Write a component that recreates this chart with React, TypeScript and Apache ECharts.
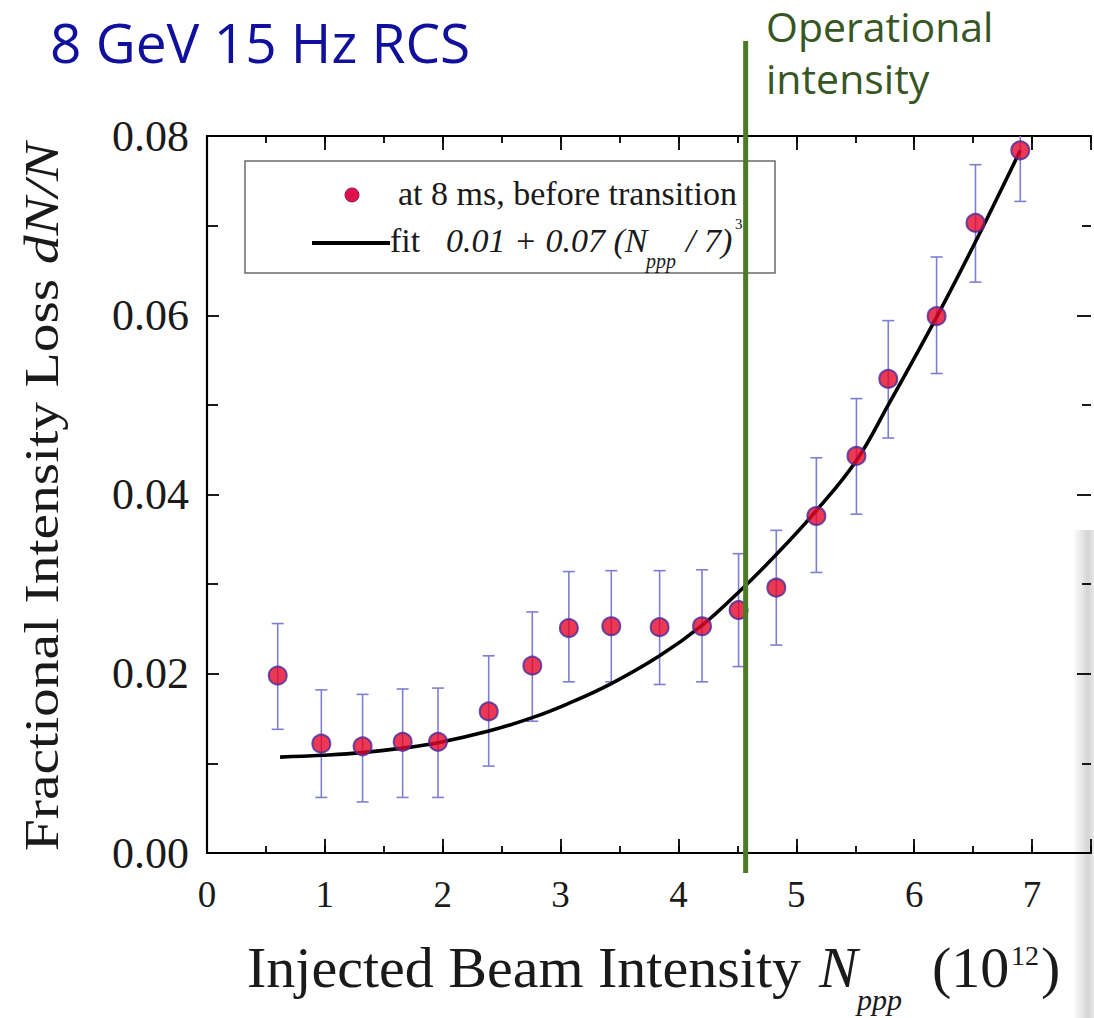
import React, { useEffect, useRef } from "react";
import * as echarts from "echarts";

// ---- data ----
const pointX = [0.60, 0.97, 1.32, 1.66, 1.96, 2.39, 2.76, 3.07, 3.43, 3.84, 4.20, 4.51, 4.83, 5.17, 5.51, 5.78, 6.19, 6.52, 6.90];
const pointY = [0.0198, 0.0122, 0.0119, 0.0124, 0.0124, 0.0158, 0.0209, 0.0251, 0.0253, 0.0252, 0.0253, 0.0271, 0.0296, 0.0376, 0.0443, 0.0529, 0.0599, 0.0703, 0.0784];
const errLow = [0.0138, 0.0062, 0.0057, 0.0062, 0.0062, 0.0097, 0.0147, 0.0191, 0.0191, 0.0188, 0.0191, 0.0208, 0.0232, 0.0313, 0.0378, 0.0463, 0.0535, 0.0637, 0.0727];
const errHigh = [0.0256, 0.0182, 0.0177, 0.0183, 0.0184, 0.0220, 0.0269, 0.0314, 0.0315, 0.0315, 0.0316, 0.0334, 0.0360, 0.0441, 0.0507, 0.0594, 0.0665, 0.0768, 0.0849];
const fitX = [0.62, 0.97, 1.32, 1.66, 1.96, 2.39, 2.76, 3.07, 3.43, 3.84, 4.20, 4.51, 4.83, 5.17, 5.51, 5.78, 6.19, 6.52, 6.90];
const fitY = [0.0107, 0.0109, 0.0112, 0.0117, 0.0123, 0.0136, 0.0151, 0.0167, 0.0189, 0.0220, 0.0254, 0.0291, 0.0333, 0.0382, 0.0438, 0.0500, 0.0598, 0.0682, 0.0784];
const operationalIntensity = 4.57;

const xMin = 0;
const xMax = 7.5;
const xMajor = 1;
const xMinor = 0.5;
const yMin = 0;
const yMax = 0.08;
const yMajor = 0.02;

const seriesName = "at 8 ms, before transition";
const fitName = "fit";

const SERIF = "Liberation Serif";
const SANS = "Open Sans";

export default function App() {
  const ref = useRef<HTMLDivElement>(null);

  useEffect(() => {
    document.body.style.margin = "0";
    const chart = echarts.init(ref.current!, null, { renderer: "svg" });

    const tickStyle = { color: "#000", width: 1.8 };
    const baseX = { type: "value", min: xMin, max: xMax, gridIndex: 0 } as any;

    chart.setOption({
      animation: false,
      grid: { left: 207, right: 0, top: 136, bottom: 165 },
      xAxis: [
        {
          ...baseX,
          position: "bottom",
          interval: xMajor,
          axisLine: { show: true, onZero: false, lineStyle: { color: "#000", width: 2.2 } },
          axisTick: { show: true, inside: true, length: 14, lineStyle: tickStyle },
          axisLabel: {
            show: true,
            margin: 23,
            fontFamily: SERIF,
            fontSize: 37,
            color: "#1a1a1a",
            formatter: (v: number) => (Math.abs(v - Math.round(v)) < 1e-6 ? String(Math.round(v)) : ""),
          },
          splitLine: { show: false },
        },
        {
          ...baseX,
          position: "bottom",
          interval: xMinor,
          axisLine: { show: false, onZero: false },
          axisTick: { show: true, inside: true, length: 7, lineStyle: tickStyle },
          axisLabel: { show: false },
          splitLine: { show: false },
        },
        {
          ...baseX,
          position: "top",
          interval: xMajor,
          axisLine: { show: true, onZero: false, lineStyle: { color: "#000", width: 2.2 } },
          axisTick: { show: true, inside: true, length: 14, lineStyle: tickStyle },
          axisLabel: { show: false },
          splitLine: { show: false },
        },
        {
          ...baseX,
          position: "top",
          interval: xMinor,
          axisLine: { show: false, onZero: false },
          axisTick: { show: true, inside: true, length: 7, lineStyle: tickStyle },
          axisLabel: { show: false },
          splitLine: { show: false },
        },
      ],
      yAxis: [
        {
          type: "value",
          position: "left",
          min: yMin,
          max: yMax,
          interval: yMajor,
          axisLine: { show: true, onZero: false, lineStyle: { color: "#000", width: 2.2 } },
          axisTick: { show: true, inside: true, length: 12, lineStyle: tickStyle },
          minorTick: { show: true, splitNumber: 2, length: 11, lineStyle: tickStyle },
          axisLabel: {
            margin: 18,
            fontFamily: SERIF,
            fontSize: 44,
            color: "#1a1a1a",
            formatter: (v: number) => v.toFixed(2),
          },
          splitLine: { show: false },
          minorSplitLine: { show: false },
        },
        {
          type: "value",
          position: "right",
          min: yMin,
          max: yMax,
          interval: yMajor,
          axisLine: { show: false, onZero: false },
          axisTick: { show: true, inside: true, length: 14, lineStyle: tickStyle },
          minorTick: { show: true, splitNumber: 2, length: 9, lineStyle: tickStyle },
          axisLabel: { show: false },
          splitLine: { show: false },
        },
      ],
      series: [
        {
          name: "error",
          type: "custom",
          xAxisIndex: 0,
          yAxisIndex: 0,
          clip: true,
          z: 2,
          data: pointX.map((x, i) => [x, errLow[i], errHigh[i]]),
          encode: { x: 0, y: [1, 2] },
          renderItem: (params: any, api: any) => {
            const x = api.value(0);
            const lo = api.coord([x, api.value(1)]);
            const hi = api.coord([x, api.value(2)]);
            const hw = 6;
            const style = { stroke: "#7e7ed6", lineWidth: 1.6, fill: "none" };
            return {
              type: "group",
              children: [
                { type: "line", shape: { x1: lo[0], y1: lo[1], x2: hi[0], y2: hi[1] }, style },
                { type: "line", shape: { x1: lo[0] - hw, y1: lo[1], x2: lo[0] + hw, y2: lo[1] }, style },
                { type: "line", shape: { x1: hi[0] - hw, y1: hi[1], x2: hi[0] + hw, y2: hi[1] }, style },
              ],
            };
          },
        },
        {
          name: fitName,
          type: "line",
          xAxisIndex: 0,
          yAxisIndex: 0,
          z: 3,
          smooth: 0.4,
          showSymbol: false,
          symbol: "none",
          lineStyle: { color: "#000", width: 3.6 },
          data: fitX.map((x, i) => [x, fitY[i]]),
        },
        {
          name: seriesName,
          type: "scatter",
          xAxisIndex: 0,
          yAxisIndex: 0,
          z: 4,
          symbol: "circle",
          symbolSize: 18,
          itemStyle: { color: "#e6062a", borderColor: "#4a2a9a", borderWidth: 2 },
          data: pointX.map((x, i) => [x, pointY[i]]),
        },
      ],
    });

    const opPx = chart.convertToPixel({ xAxisIndex: 0 }, operationalIntensity) as number;

    chart.setOption({
      graphic: [
        // right-edge grey band (scan artifact)
        {
          type: "rect",
          z: -10,
          shape: { x: 1074, y: 530, width: 20, height: 488 },
          style: {
            fill: new echarts.graphic.LinearGradient(0, 0, 1, 0, [
              { offset: 0, color: "#fbfbfb" },
              { offset: 0.4, color: "#e6e6e6" },
              { offset: 0.7, color: "#d4d4d4" },
              { offset: 1, color: "#e8e8e8" },
            ]),
          },
        },
        // title
        {
          type: "text",
          x: 50,
          y: 41,
          style: { text: "8 GeV 15 Hz RCS", fontFamily: SANS, fontSize: 55, fill: "#10109c", verticalAlign: "middle", align: "left" },
        },
        // operational intensity label
        {
          type: "text",
          x: 766,
          y: 26,
          style: { text: "Operational", fontFamily: SANS, fontSize: 41, fill: "#375623", verticalAlign: "middle", align: "left" },
        },
        {
          type: "text",
          x: 766,
          y: 78,
          style: { text: "intensity", fontFamily: SANS, fontSize: 41, fill: "#375623", verticalAlign: "middle", align: "left" },
        },
        // legend box
        {
          type: "rect",
          z: 5,
          shape: { x: 245, y: 161, width: 530, height: 112 },
          style: { fill: "#fff", stroke: "#6a6a6a", lineWidth: 1.5 },
        },
        {
          type: "circle",
          z: 6,
          shape: { cx: 352, cy: 195, r: 7 },
          style: { fill: "#e0104a", stroke: "#8a2060", lineWidth: 1 },
        },
        {
          type: "text",
          z: 6,
          x: 398,
          y: 193.5,
          style: { text: seriesName, fontFamily: SERIF, fontSize: 34, fill: "#1a1a1a", verticalAlign: "middle" },
        },
        {
          type: "line",
          z: 6,
          shape: { x1: 312, y1: 243, x2: 390, y2: 243 },
          style: { stroke: "#000", lineWidth: 4 },
        },
        {
          type: "text",
          z: 6,
          x: 390,
          y: 240.5,
          style: { text: fitName, fontFamily: SERIF, fontSize: 34, fill: "#1a1a1a", verticalAlign: "middle" },
        },
        {
          type: "text",
          z: 6,
          x: 446,
          y: 240.5,
          style: { text: "0.01 + 0.07 (N", fontFamily: SERIF, fontStyle: "italic", fontSize: 34, fill: "#1a1a1a", verticalAlign: "middle" },
        },
        {
          type: "text",
          z: 6,
          x: 646,
          y: 261,
          style: { text: "ppp", fontFamily: SERIF, fontStyle: "italic", fontSize: 20, fill: "#1a1a1a", verticalAlign: "middle" },
        },
        {
          type: "text",
          z: 6,
          x: 686,
          y: 240.5,
          style: { text: "/ 7)", fontFamily: SERIF, fontStyle: "italic", fontSize: 34, fill: "#1a1a1a", verticalAlign: "middle" },
        },
        {
          type: "text",
          z: 6,
          x: 735,
          y: 224,
          style: { text: "3", fontFamily: SERIF, fontSize: 15, fill: "#1a1a1a", verticalAlign: "middle" },
        },
        // operational intensity vertical line
        {
          type: "line",
          z: 20,
          shape: { x1: opPx, y1: 41, x2: opPx, y2: 873 },
          style: { stroke: "#4b7b26", lineWidth: 5 },
        },
        // x-axis title
        {
          type: "text",
          x: 247,
          y: 967,
          style: { text: "Injected Beam Intensity", fontFamily: SERIF, fontSize: 58, fill: "#1a1a1a", verticalAlign: "middle" },
        },
        {
          type: "text",
          x: 819,
          y: 967,
          style: { text: "N", fontFamily: SERIF, fontStyle: "italic", fontSize: 58, fill: "#1a1a1a", verticalAlign: "middle" },
        },
        {
          type: "text",
          x: 857,
          y: 999,
          style: { text: "ppp", fontFamily: SERIF, fontStyle: "italic", fontSize: 30, fill: "#1a1a1a", verticalAlign: "middle" },
        },
        {
          type: "text",
          x: 932,
          y: 967,
          style: { text: "(10", fontFamily: SERIF, fontSize: 58, fill: "#1a1a1a", verticalAlign: "middle" },
        },
        {
          type: "text",
          x: 1011,
          y: 955,
          style: { text: "12", fontFamily: SERIF, fontSize: 28, fill: "#1a1a1a", verticalAlign: "middle" },
        },
        {
          type: "text",
          x: 1041,
          y: 967,
          style: { text: ")", fontFamily: SERIF, fontSize: 58, fill: "#1a1a1a", verticalAlign: "middle" },
        },
        // y-axis title
        {
          type: "text",
          x: 42,
          y: 497,
          rotation: Math.PI / 2,
          scaleX: 1.2,
          style: {
            text: "{a|Fractional Intensity Loss }{b|dN/N}",
            align: "center",
            verticalAlign: "middle",
            rich: {
              a: { fontFamily: SERIF, fontSize: 48, fill: "#1a1a1a" },
              b: { fontFamily: SERIF, fontSize: 48, fontStyle: "italic", fill: "#1a1a1a" },
            },
          },
        },
      ],
    });

    return () => chart.dispose();
  }, []);

  return <div ref={ref} style={{ width: 1094, height: 1018 }} />;
}
